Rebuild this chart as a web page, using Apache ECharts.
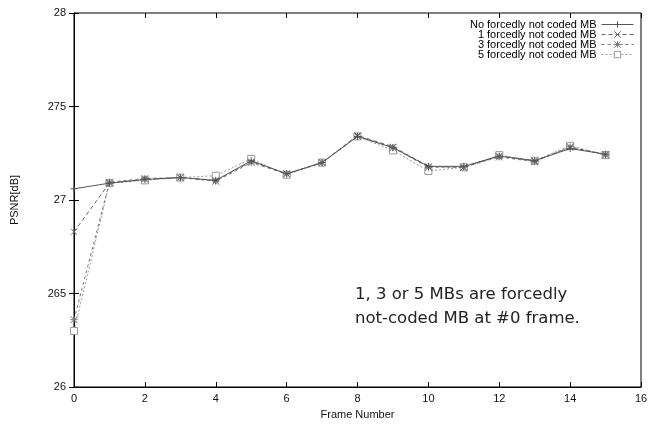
<!DOCTYPE html>
<html><head><meta charset="utf-8">
<script src="https://cdn.jsdelivr.net/npm/echarts@6/dist/echarts.min.js"></script>
<style>html,body{margin:0;padding:0;background:#fff}#c{width:656px;height:425px}</style>
</head><body><div id="c"></div>
<script>
const frames = [0,1,2,3,4,5,6,7,8,9,10,11,12,13,14,15];
const seriesNames = ["No forcedly not coded MB","1 forcedly not coded MB","3 forcedly not coded MB","5 forcedly not coded MB"];
const noForced = [27.06,27.09,27.11,27.12,27.105,27.21,27.14,27.20,27.34,27.28,27.18,27.18,27.235,27.21,27.275,27.245];
const forced1 = [26.83,27.09,27.11,27.12,27.105,27.205,27.14,27.20,27.345,27.285,27.18,27.175,27.235,27.21,27.28,27.245];
const forced3 = [26.36,27.095,27.115,27.12,27.10,27.20,27.14,27.20,27.34,27.28,27.175,27.175,27.23,27.205,27.285,27.24];
const forced5 = [26.30,27.09,27.105,27.12,27.13,27.22,27.135,27.20,27.34,27.265,27.155,27.175,27.24,27.21,27.29,27.24];
const yTickLabels = ["26","265","27","275","28"];
const xTickLabels = ["0","2","4","6","8","10","12","14","16"];
const annotation = ["1, 3 or 5 MBs are forcedly","not-coded MB at #0 frame."];

const allData = [noForced, forced1, forced3, forced5];
const styles = [
  {color:'#555', type:'solid', symbol:'path://M5,0L5,10M0,5L10,5', size:7},
  {color:'#666', type:[4,3], symbol:'path://M0,0L10,10M10,0L0,10', size:6},
  {color:'#777', type:[3,3], symbol:'path://M0,0L10,10M10,0L0,10M5,0L5,10M0,5L10,5', size:7},
  {color:'#999', type:[2,2], symbol:'rect', size:7}
];
const series = allData.map((d,i)=>({
  name: seriesNames[i],
  type:'line',
  data: d.map((v,j)=>[frames[j], v]),
  symbol: styles[i].symbol,
  symbolSize: styles[i].size,
  showSymbol:true,
  lineStyle:{color:styles[i].color, width:1, type:styles[i].type},
  itemStyle:{color: i===3 ? '#fff' : styles[i].color, borderColor:styles[i].color, borderWidth:1},
  emphasis:{disabled:true},
  animation:false,
  z: 4-i
}));

const chart = echarts.init(document.getElementById('c'));
const font = 'Liberation Sans, Arial, sans-serif';
chart.setOption({
  animation:false,
  backgroundColor:'#fff',
  grid:{left:74, right:15, top:13, bottom:36, show:true, borderColor:'#000', borderWidth:1},
  legend:{
    orient:'vertical', right:17, top:14, align:'right', itemGap:-1,
    itemWidth:32, itemHeight:8,
    lineStyle:{width:1},
    itemStyle:{borderWidth:1},
    textStyle:{fontFamily:font, fontSize:11, color:'#000', lineHeight:10, padding:[0,0,0,0]},
    data: seriesNames
  },
  xAxis:[{
    type:'value', min:0, max:16, interval:2,
    name:'Frame Number', nameLocation:'middle', nameGap:22,
    nameTextStyle:{fontFamily:font, fontSize:11, color:'#111'},
    axisLine:{show:true, lineStyle:{color:'#000'}},
    axisTick:{inside:true, length:5, lineStyle:{color:'#000'}},
    axisLabel:{fontFamily:font, fontSize:11, color:'#111', margin:6,
      formatter:(v)=>xTickLabels[Math.round(v/2)]},
    splitLine:{show:false}
  },{
    type:'value', min:0, max:16, interval:2, position:'top',
    axisLine:{show:false}, axisTick:{inside:true, length:5, lineStyle:{color:'#000'}},
    axisLabel:{show:false}, splitLine:{show:false}
  }],
  yAxis:[{
    type:'value', min:26, max:28, interval:0.5,
    name:'PSNR[dB]', nameLocation:'middle', nameGap:54, nameRotate:90,
    nameTextStyle:{fontFamily:font, fontSize:11, color:'#111'},
    axisLine:{show:true, lineStyle:{color:'#000'}},
    axisTick:{inside:true, length:5, lineStyle:{color:'#000'}},
    axisLabel:{fontFamily:font, fontSize:11, color:'#111', margin:8,
      formatter:(v)=>yTickLabels[Math.round((v-26)/0.5)]},
    splitLine:{show:false}
  },{
    type:'value', min:26, max:28, interval:0.5, position:'right',
    axisLine:{show:false}, axisTick:{inside:true, length:5, lineStyle:{color:'#000'}},
    axisLabel:{show:false}, splitLine:{show:false}
  }],
  graphic:[{
    type:'text', left:355, top:283, silent:true,
    style:{text:annotation.join('\n'), font:'16.5px "DejaVu Sans", sans-serif', lineHeight:24, fill:'#222'}
  }],
  series: series
});
</script></body></html>
